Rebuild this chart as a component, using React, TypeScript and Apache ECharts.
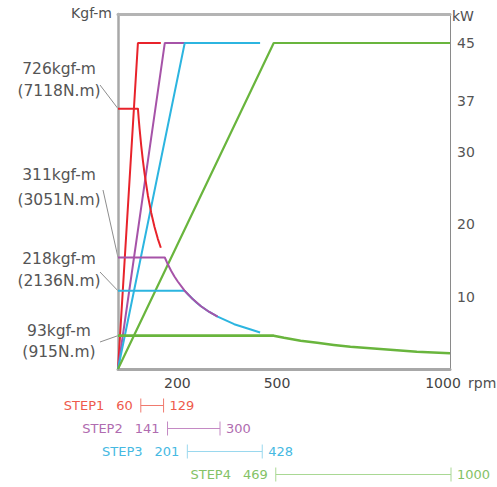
import React, { useEffect, useRef } from 'react';
import * as echarts from 'echarts';

// ---- data ----
const stepNames = ['STEP1', 'STEP2', 'STEP3', 'STEP4'];
const stepStartRpm = [60, 141, 201, 469];
const stepEndRpm = [129, 300, 428, 1000];
const ratedPowerKw = [45, 45, 45, 45];
const stepTorqueKgfm = [726, 311, 218, 93];
const stepTorqueNm = [7118, 3051, 2136, 915];

// torque curves (rpm, kgf-m)
const step1Rpm = [0, 60, 63, 65, 70, 75, 80, 90, 100, 110, 120, 129];
const step1Torque = [726, 726, 691, 670, 622, 581, 545, 484, 436, 396, 363, 338];
const step2Rpm = [0, 141, 150, 160, 170, 180, 200, 225, 250, 275, 300];
const step2Torque = [311, 311, 292, 274, 258, 244, 219, 195, 175, 159, 146];
const step3Rpm = [0, 201, 212, 225, 237, 250, 275, 300, 350, 400, 428];
const step3Torque = [218, 218, 207, 195, 185, 175, 159, 146, 125, 110, 102];
const step4Rpm = [0, 469, 500, 525, 550, 600, 650, 700, 800, 900, 1000];
const step4Torque = [93, 93, 87, 83, 79, 73, 67, 62, 55, 48, 44];

const rpmTicks = [200, 500, 1000];
const kwTicks = [10, 20, 30, 37, 45];

// ---- styles ----
const FONT = '"DejaVu Sans", Arial, sans-serif';
const lineColors = ['#e8232b', '#a653a8', '#2cb5e0', '#69b53d'];
const textColors = ['#ee5a4c', '#b06cb0', '#46b9e2', '#84c266'];
const bracketColors = ['#f07a6e', '#c48ac4', '#9ad8ee', '#a9d894'];
const annoCenters = [
  [59, 69, 91],
  [59, 175, 200],
  [59, 259, 281],
  [59, 331, 352],
];
const leaderStarts = [
  [100, 85],
  [103, 190],
  [100, 272],
  [100, 342],
];

const torqueCurves = [
  [step1Rpm, step1Torque],
  [step2Rpm, step2Torque],
  [step3Rpm, step3Torque],
  [step4Rpm, step4Torque],
];

function buildOption(): any {
  const powerSeries = stepStartRpm.map((s, i) => ({
    type: 'line',
    xAxisIndex: 0,
    yAxisIndex: 1,
    symbol: 'none',
    lineStyle: { color: lineColors[i], width: i === 3 ? 2.2 : 2 },
    data: [
      [0, 0],
      [s, ratedPowerKw[i]],
      [stepEndRpm[i], ratedPowerKw[i]],
    ],
  }));
  const torqueOrder = [3, 2, 1, 0];
  const torqueSeries = torqueOrder.map((i) => ({
    type: 'line',
    xAxisIndex: 0,
    yAxisIndex: 0,
    symbol: 'none',
    lineStyle: { color: lineColors[i], width: i === 3 ? 2.6 : 2, join: 'round' },
    data: torqueCurves[i][0].map((r, j) => [r, torqueCurves[i][1][j]]),
  }));

  const bracketSeries = {
    type: 'custom',
    xAxisIndex: 1,
    yAxisIndex: 2,
    clip: false,
    encode: { x: [0, 1], y: 2 },
    data: stepStartRpm.map((s, i) => [s, stepEndRpm[i], i + 1]),
    renderItem: (params: any, api: any) => {
      const i = params.dataIndex;
      const s = api.coord([api.value(0), api.value(2)]);
      const e = api.coord([api.value(1), api.value(2)]);
      const h = 7;
      const c = bracketColors[i];
      const tc = textColors[i];
      const numW = String(api.value(0)).length * 0.636 * 13;
      const txt = (text: string, x: number, y: number, align: string) => ({
        type: 'text',
        x,
        y,
        style: {
          text,
          fill: tc,
          fontSize: 13,
          fontFamily: FONT,
          align,
          textAlign: align,
          verticalAlign: 'middle',
          textVerticalAlign: 'middle',
        },
      });
      return {
        type: 'group',
        children: [
          { type: 'line', shape: { x1: s[0], y1: s[1], x2: e[0], y2: e[1] }, style: { stroke: c, lineWidth: 1 } },
          { type: 'line', shape: { x1: s[0], y1: s[1] - h, x2: s[0], y2: s[1] + h }, style: { stroke: c, lineWidth: 1 } },
          { type: 'line', shape: { x1: e[0], y1: e[1] - h, x2: e[0], y2: e[1] + h }, style: { stroke: c, lineWidth: 1 } },
          txt(String(api.value(0)), s[0] - 8, s[1], 'right'),
          txt(stepNames[i], s[0] - 8 - numW - 12, s[1], 'right'),
          txt(String(api.value(1)), e[0] + 6, e[1], 'left'),
        ],
      };
    },
  };

  return {
    animation: false,
    backgroundColor: '#ffffff',
    textStyle: { fontFamily: FONT },
    grid: [
      { left: 118, right: 47, top: 14, bottom: 118 },
      { left: 121, right: 46, top: 394, height: 92 },
    ],
    xAxis: [
      {
        type: 'value',
        gridIndex: 0,
        position: 'bottom',
        min: 0,
        max: 1000,
        axisLine: { show: true, onZero: false, lineStyle: { color: '#a8a8a8', width: 3 } },
        axisTick: { show: false },
        splitLine: { show: false },
        axisLabel: {
          customValues: rpmTicks,
          formatter: (v: number) => String(v),
          color: '#444',
          fontSize: 14,
          fontFamily: FONT,
          margin: 7,
          padding: [0, 14, 0, 0],
        },
      },
      {
        type: 'value',
        gridIndex: 1,
        min: 0,
        max: 1000,
        show: false,
      },
      {
        type: 'value',
        gridIndex: 0,
        position: 'top',
        min: 0,
        max: 1000,
        axisLine: { show: true, onZero: false, lineStyle: { color: '#b4b4b4', width: 3 } },
        axisTick: { show: false },
        axisLabel: { show: false },
        splitLine: { show: false },
      },
    ],
    yAxis: [
      {
        type: 'value',
        gridIndex: 0,
        position: 'left',
        min: 0,
        max: 990,
        axisLine: { show: true, onZero: false, lineStyle: { color: '#a8a8a8', width: 2.5 } },
        axisTick: { show: false },
        axisLabel: { show: false },
        splitLine: { show: false },
      },
      {
        type: 'value',
        gridIndex: 0,
        position: 'right',
        min: 0,
        max: 49,
        axisLine: { show: true, onZero: false, lineStyle: { color: '#8a8a8a', width: 1 } },
        axisTick: { show: false },
        splitLine: { show: false },
        axisLabel: {
          customValues: kwTicks,
          color: '#555',
          fontSize: 14,
          fontFamily: FONT,
          margin: 7,
        },
      },
      {
        type: 'value',
        gridIndex: 1,
        min: 0.5,
        max: 4.5,
        inverse: true,
        show: false,
      },
    ],
    series: [...powerSeries, ...torqueSeries, bracketSeries],
  };
}

export default function App() {
  const ref = useRef<HTMLDivElement>(null);
  useEffect(() => {
    const chart = echarts.init(ref.current!, null, { renderer: 'svg' });
    chart.setOption(buildOption());

    const text = (t: string, x: number, y: number, size: number, align: string, color: string) => ({
      type: 'text',
      x,
      y,
      style: {
        text: t,
        fill: color,
        fontSize: size,
        fontFamily: FONT,
        textAlign: align,
        align,
        textVerticalAlign: 'middle',
        verticalAlign: 'middle',
      },
    });

    const graphics: any[] = [
      text('Kgf-m', 112, 13, 14, 'right', '#505050'),
      text('kW', 452, 16, 14, 'left', '#505050'),
      text('rpm', 468, 383, 14, 'left', '#505050'),
    ];
    stepTorqueKgfm.forEach((t, i) => {
      const [cx, y1, y2] = annoCenters[i];
      graphics.push(text(`${t}kgf-m`, cx, y1, 15.5, 'center', '#555'));
      graphics.push(text(`(${stepTorqueNm[i]}N.m)`, cx, y2, 15.5, 'center', '#555'));
      const p = chart.convertToPixel({ xAxisIndex: 0, yAxisIndex: 0 }, [0, t]) as number[];
      graphics.push({
        type: 'line',
        shape: { x1: leaderStarts[i][0], y1: leaderStarts[i][1], x2: p[0], y2: p[1] },
        style: { stroke: '#808080', lineWidth: 0.9 },
      });
    });
    chart.setOption({ graphic: graphics });

    return () => chart.dispose();
  }, []);
  return (
    <div
      ref={ref}
      style={{ position: 'fixed', left: 0, top: 0, width: 497, height: 487 }}
    />
  );
}
